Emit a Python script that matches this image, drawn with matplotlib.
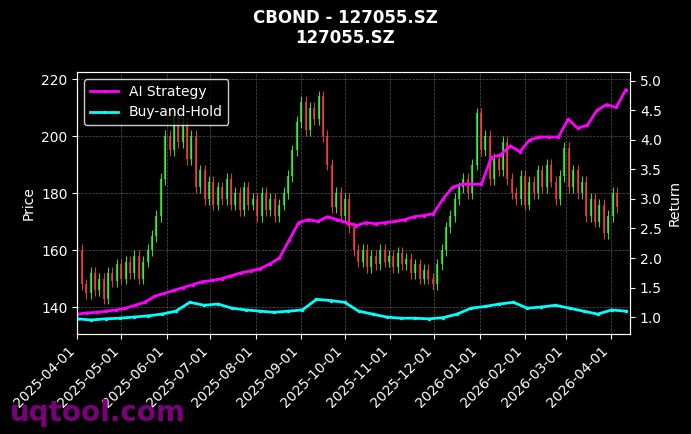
import matplotlib
matplotlib.use("Agg")
import matplotlib.pyplot as plt
import matplotlib.dates as mdates
import numpy as np
import pandas as pd

closes = [160,148,145,152,146,150,143,152,149,155,
          150,156,152,158,150,156,160,165,172,185,
          200,195,208,198,205,192,200,182,188,178,
          184,176,182,178,185,176,180,174,182,176,
          178,172,180,174,178,172,176,180,186,195,
          205,212,202,210,206,214,200,190,175,180,
          172,178,168,160,156,160,154,158,155,160,
          156,158,154,159,155,157,152,155,150,153,
          150,148,155,160,168,172,178,182,185,180,
          190,208,195,200,185,192,188,198,185,180,
          178,186,176,184,180,188,182,190,184,178,
          186,196,182,188,180,184,172,178,170,176,
          166,172,180,175]
strategy = [1.05,1.07,1.08,1.10, 1.12,1.15,1.2,1.25,1.35, 1.4,1.45,1.5,1.55,
            1.6,1.62,1.65,1.7,1.75, 1.78,1.82,1.9,2.0,2.3, 2.6,2.65,2.62,2.7,
            2.65,2.6,2.55,2.6,2.58, 2.6,2.62,2.65,2.7, 2.72,2.75,3.0,3.2,3.25,
            3.25,3.25,3.7,3.75,3.9, 3.8,4.0,4.05,4.05, 4.05,4.35,4.2,4.25,4.5,
            4.6,4.55,4.85]
buyhold = [0.97,0.95,0.97,0.98,1.0,1.02,1.05,1.1,1.25,1.2,1.22,1.15,1.12,1.1,1.08,1.1,
           1.12,1.3,1.28,1.25,1.1,1.05,1.0,0.98,0.98,0.97,0.99,1.05,1.15,1.18,1.22,1.25,
           1.15,1.17,1.2,1.15,1.1,1.05,1.12,1.1]
start, end = "2025-04-01", "2026-04-11"

cdates = pd.date_range(start, periods=len(closes), freq="3D")
opens = [closes[0] + 3] + closes[:-1]
sdates = pd.date_range(start, end, periods=len(strategy))
bdates = pd.date_range(start, end, periods=len(buyhold))

fig, ax = plt.subplots(figsize=(6.91, 4.34), dpi=100)
fig.patch.set_facecolor("black")
ax.set_facecolor("black")
x = mdates.date2num(cdates)
for xi, o, c in zip(x, opens, closes):
    col = "#44ee44" if c >= o else "#ee4444"
    ax.vlines(xi, min(o, c) - 2, max(o, c) + 2, color=col, lw=0.8, alpha=0.9)
    ax.vlines(xi, min(o, c), max(o, c), color=col, lw=1.6, alpha=0.75)
ax.set_ylim(130.5, 222.5)
ax.set_ylabel("Price", color="white")
ax.grid(True, color="#555555", ls="--", lw=0.5)
ax2 = ax.twinx()
l1, = ax2.plot(sdates, strategy, "-o", color="magenta", lw=2, ms=1.5, label="AI Strategy")
l2, = ax2.plot(bdates, buyhold, "-o", color="cyan", lw=2, ms=1.5, label="Buy-and-Hold")
ax2.set_ylim(0.71, 5.15)
ax2.set_ylabel("Return", color="white")
ax.set_xlim(mdates.datestr2num("2025-04-01"), mdates.datestr2num("2026-04-14"))
ax.xaxis.set_major_locator(mdates.MonthLocator())
ax.xaxis.set_major_formatter(mdates.DateFormatter("%Y-%m-%d"))
plt.setp(ax.get_xticklabels(), rotation=45, ha="right")
for a in (ax, ax2):
    a.tick_params(colors="white")
    for s in a.spines.values():
        s.set_color("white")
leg = ax2.legend(handles=[l1, l2], loc="upper left", facecolor="black", edgecolor="white", labelcolor="white")
fig.suptitle("CBOND - 127055.SZ\n127055.SZ", color="white", fontweight="bold", fontsize=12)
fig.text(0.015, 0.03, "uqtool.com", color="#8b008b", fontsize=20, fontweight="bold", alpha=0.9)
fig.subplots_adjust(left=0.112, right=0.912, top=0.834, bottom=0.23)
fig.savefig("out.png", dpi=100, facecolor="black")
